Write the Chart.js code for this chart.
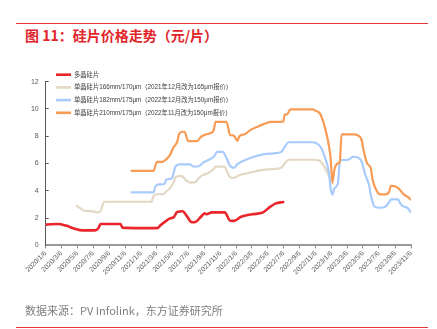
<!DOCTYPE html>
<html>
<head>
<meta charset="utf-8">
<script src="https://cdn.jsdelivr.net/npm/chart.js@4.4.1/dist/chart.umd.min.js"></script>
<style>
  html, body { margin: 0; padding: 0; background: #fff; }
  #wrap { position: relative; width: 437px; height: 329px; overflow: hidden; }
  #chart { position: absolute; left: 0; top: 0; }
  .rule { position: absolute; left: 16px; width: 412px; height: 1px; background: #e4393c; }
  #title { position: absolute; left: 25px; top: 25px; font: bold 14px "Noto Sans CJK SC", sans-serif; color: #e0262b; white-space: nowrap; }
  #source { position: absolute; left: 25px; top: 302px; font: 11px "Noto Sans CJK SC", sans-serif; color: #7f7f7f; white-space: nowrap; }
</style>
</head>
<body>
<div id="wrap">
  <div class="rule" style="top:23px"></div>
  <div id="title">图 11：硅片价格走势（元/片）</div>
  <canvas id="chart" width="437" height="329"></canvas>
  <div id="source">数据来源：PV Infolink，东方证券研究所</div>
  <div class="rule" style="top:327px"></div>
</div>
<script>
// weekly quotes, x = weeks since 2020/1/6
const polyWeek = [0,3,7,11,16,20,27,29,30,41,42,52,61,63,66,68,70,72,75,77,80,82,85,87,88,91,98,101,103,107,113,119,123,126,130];
const polyPrice = [1.52,1.55,1.57,1.45,1.22,1.1,1.1,1.3,1.57,1.57,1.3,1.27,1.27,1.5,1.8,1.98,2.05,2.45,2.5,2.2,1.7,1.72,2.1,2.35,2.28,2.42,2.42,1.81,1.8,2.1,2.28,2.42,2.84,3.08,3.18];

const m166Week = [17,19,21,26,28,30,32,58,59,61,64,66,68,70,71,74,75,77,80,82,84,86,89,92,93,98,99,101,103,106,112,117,125,129,131,133,146,150,152,154,156,157];
const m166Price = [2.89,2.72,2.54,2.5,2.42,2.5,3.2,3.2,3.62,3.75,3.75,3.95,4.2,4.6,5.0,5.1,5.05,4.75,4.6,4.65,4.95,5.15,5.3,5.6,5.77,5.77,5.5,5.0,4.95,5.15,5.33,5.5,5.6,5.7,6.03,6.28,6.28,6.2,5.89,5.4,4.79,4.55];

const m182Week = [47,59,60,62,65,66,69,71,73,79,81,84,86,89,92,94,97,99,101,103,105,108,114,119,125,129,131,133,146,149,151,153,155,156,157,158,160,161,162,165,167,168,171,173,175,177,178,180,183,186,188,189,193,194,196,198,200];
const m182Price = [3.89,3.89,4.3,4.47,4.5,4.84,4.9,5.77,5.94,5.94,5.77,5.8,6.05,6.26,6.5,6.85,6.86,6.4,5.82,5.69,5.95,6.18,6.5,6.67,6.75,6.86,7.25,7.56,7.56,7.42,7.11,6.4,5.4,4.18,3.72,4.18,4.55,6.13,6.26,6.26,6.38,6.5,6.45,6.13,5.16,4.42,3.69,2.84,2.76,2.84,3.16,3.38,3.38,3.1,2.84,2.76,2.42];

const m210Week = [47,59,61,64,66,68,70,72,73,75,76,78,83,85,87,90,92,93,99,101,103,105,106,109,112,116,119,123,130,131,132,134,146,148,150,151,153,155,156,157,158,160,161,162,169,171,173,174,176,178,179,181,183,186,188,189,191,194,196,198,200];
const m210Price = [5.47,5.47,6.13,6.13,6.31,6.62,7.19,7.6,8.16,8.33,8.33,7.65,7.65,7.96,8.1,8.22,8.45,9.06,9.06,8.09,8.05,7.66,8.0,8.15,8.45,8.7,8.87,9.06,9.08,9.6,9.6,9.97,9.97,9.86,9.69,9.43,8.58,7.36,6.38,4.62,5.52,6.01,6.1,8.14,8.14,8.05,7.72,6.99,6.01,5.65,4.79,4.06,3.74,3.74,3.93,4.37,4.35,4.06,3.74,3.57,3.35];

const seriesNames = [
  '多晶硅片',
  '单晶硅片166mm/170μm（2021年12月改为165μm报价）',
  '单晶硅片182mm/175μm（2022年12月改为150μm报价）',
  '单晶硅片210mm/175μm（2022年11月改为150μm报价）'
];
const tickLabels = ['2020/1/6','2020/3/6','2020/5/6','2020/7/6','2020/9/6','2020/11/6',
  '2021/1/6','2021/3/6','2021/5/6','2021/7/6','2021/9/6','2021/11/6',
  '2022/1/6','2022/3/6','2022/5/6','2022/7/6','2022/9/6','2022/11/6',
  '2023/1/6','2023/3/6','2023/5/6','2023/7/6','2023/9/6','2023/11/6'];
const yTicks = [0,2,4,6,8,10,12];

const START = Date.UTC(2020, 0, 6);
function weeksOf(label){
  const p = label.split('/').map(Number);
  return (Date.UTC(p[0], p[1]-1, p[2]) - START) / (7*24*3600*1000);
}
function pts(xs, ys){ return xs.map((x,i)=>({x, y: ys[i]})); }

const colors = ['#e8262b', '#e3d8c3', '#a9cbfb', '#f89b55'];
const widths = [2.6, 2.2, 2.2, 2.2];
const allData = [pts(polyWeek, polyPrice), pts(m166Week, m166Price), pts(m182Week, m182Price), pts(m210Week, m210Price)];

const TXT = '"Liberation Sans", "Noto Sans CJK SC", sans-serif';

// legend sits inside the plot, top-left; datasets are stored in reverse draw order
const insideLegend = {
  id: 'insideLegend',
  afterDraw(chart){
    const ctx = chart.ctx;
    const x0 = 56, y0 = 74.7, gap = 12.7;
    const ds = chart.data.datasets.slice().reverse();
    ctx.save();
    ctx.font = '6.3px ' + TXT;
    ctx.textBaseline = 'middle';
    ctx.fillStyle = '#404040';
    ds.forEach((d, i) => {
      const y = y0 + i*gap;
      ctx.strokeStyle = d.borderColor;
      ctx.lineWidth = 2.6;
      ctx.beginPath(); ctx.moveTo(x0, y); ctx.lineTo(x0 + 15, y); ctx.stroke();
      ctx.fillText(d.label, x0 + 18, y + 0.3);
    });
    ctx.restore();
  }
};

new Chart(document.getElementById('chart'), {
  type: 'line',
  data: {
    datasets: allData.map((d, i) => ({
      label: seriesNames[i],
      data: d,
      borderColor: colors[i],
      backgroundColor: colors[i],
      borderWidth: widths[i],
      pointRadius: 0,
      cubicInterpolationMode: 'monotone',
      borderCapStyle: 'round',
      borderJoinStyle: 'round'
    })).reverse()
  },
  options: {
    responsive: false,
    animation: false,
    layout: { padding: { left: 0, right: 26, top: 81.7, bottom: 0 } },
    plugins: { legend: { display: false }, tooltip: { enabled: false } },
    scales: {
      x: {
        type: 'linear', min: 0, max: 200,
        afterFit(s){ s.height = 83.6; },
        afterBuildTicks(s){ s.ticks = tickLabels.map(t => ({ value: weeksOf(t) })); },
        ticks: {
          autoSkip: false, minRotation: 45, maxRotation: 45, padding: 1,
          color: '#595959', font: { size: 6.8, family: TXT },
          callback: (v, i) => tickLabels[i]
        },
        grid: { display: true, drawOnChartArea: false, tickLength: 3, color: '#8c8c8c' },
        border: { color: '#9a9a9a', width: 2 }
      },
      y: {
        min: 0, max: 12,
        afterFit(s){ s.width = 45.7; },
        afterBuildTicks(s){ s.ticks = yTicks.map(v => ({ value: v })); },
        ticks: { padding: 10, color: '#595959', font: { size: 7, family: TXT } },
        grid: { display: true, drawOnChartArea: false, tickLength: -3, color: '#595959' },
        border: { color: '#595959', width: 1 }
      }
    }
  },
  plugins: [insideLegend]
});
</script>
</body>
</html>
